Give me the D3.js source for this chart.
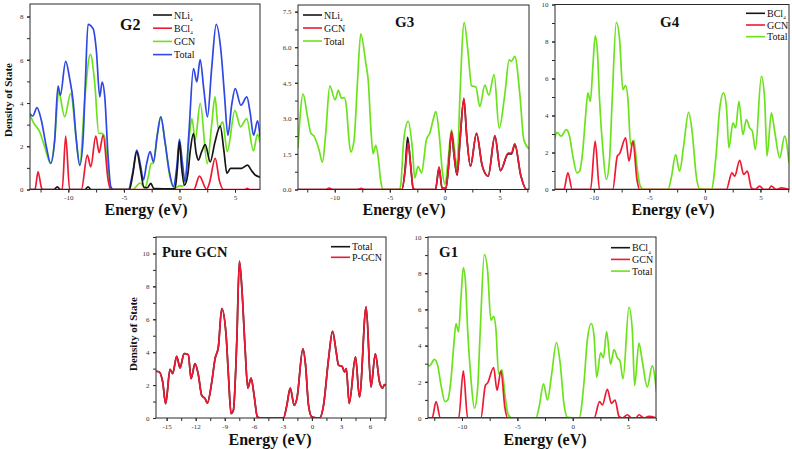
<!DOCTYPE html>
<html>
<head>
<meta charset="utf-8">
<script src="https://cdn.jsdelivr.net/npm/d3@7"></script>
<style>
  body { margin: 0; background: #fff; }
  svg { display: block; }
</style>
</head>
<body>
<div id="chart"></div>
<script>
// ---- data: [energy (eV), DOS] ----
const g2Total = [[-13.45,3.5],[-13.2,3.4],[-12.82,3.79],[-12.43,3.2],[-11.98,1.98],[-11.59,1.21],[-11.23,2.28],[-10.93,4.78],[-10.72,4.36],[-10.24,5.93],[-9.88,5.13],[-9.58,4.13],[-9.28,2.28],[-8.97,1.13],[-8.68,2.28],[-8.47,4.9],[-8.23,7.64],[-7.77,7.44],[-7.48,6.44],[-7.17,4.28],[-6.96,4.97],[-6.72,4.28],[-6.42,1.51],[-6.18,0.13],[-5.97,0],[-4.6,0],[-4.2,0.8],[-3.84,1.82],[-3.5,1.1],[-3.24,0.44],[-2.95,1.2],[-2.64,1.75],[-2.34,1.28],[-2.0,2.5],[-1.68,3.36],[-1.3,2.2],[-0.9,0.8],[-0.54,0.13],[-0.25,1.0],[0,2.32],[0.25,1.3],[0.51,0.36],[0.85,2.6],[1.26,5.59],[1.57,4.98],[1.86,6.01],[2.2,4.6],[2.52,3.36],[2.9,5.6],[3.31,7.64],[3.73,6.44],[4.05,4.4],[4.36,2.51],[4.7,3.9],[5.02,4.67],[5.53,3.9],[6.07,4.28],[6.35,3.6],[6.67,2.51],[7.03,3.17],[7.25,2.44]]
const g2Gcn = [[-13.45,3.44],[-13.1,3.06],[-12.58,2.67],[-12.13,1.98],[-11.59,1.21],[-11.23,2.28],[-10.87,4.51],[-10.33,3.36],[-9.79,4.44],[-9.28,2.28],[-8.97,1.1],[-8.53,4.13],[-8.02,6.25],[-7.62,4.9],[-7.26,2.59],[-7.0,2.6],[-6.75,2.45],[-6.33,0.44],[-6.1,0],[-4.2,0],[-3.54,0.3],[-3.1,0.08],[-2.8,0.6],[-2.55,1.2],[-2.34,1.22],[-2.0,2.5],[-1.68,3.36],[-1.3,2.2],[-0.9,0.7],[-0.54,0.12],[-0.2,0.1],[0,0.18],[0.3,0.15],[0.6,0.8],[0.9,2.5],[1.12,3.28],[1.42,2.3],[1.87,3.98],[2.5,1.2],[2.9,3.0],[3.2,4.28],[3.5,2.8],[3.9,3.13],[4.3,1.75],[4.99,3.65],[5.5,2.9],[6.05,3.28],[6.66,1.79],[7.02,2.55],[7.25,2.17]]
const g2Bcl = [[-13.45,0],[-13.0,0],[-12.73,0.82],[-12.4,0.05],[-12.28,0],[-10.55,0],[-10.24,2.47],[-9.88,0],[-8.83,0],[-8.29,1.59],[-7.98,1.05],[-7.53,2.47],[-7.23,1.7],[-6.87,2.51],[-6.42,0.44],[-6.2,0],[1.3,0],[1.8,0.62],[2.45,0],[2.7,0.3],[3.22,1.44],[3.6,0.4],[3.97,0],[5.9,0],[6.1,0.05],[6.3,0],[7.25,0]]
const g2Nli = [[-13.45,0],[-11.3,0],[-11.0,0.12],[-10.7,0],[-8.5,0],[-8.23,0.12],[-7.95,0],[-4.5,0],[-4.2,0.7],[-3.84,1.75],[-3.5,0.9],[-3.2,0.1],[-2.9,0.08],[-2.58,0.28],[-2.3,0.04],[-0.4,0.03],[-0.2,0.9],[0,2.2],[0.2,1.0],[0.45,0.2],[0.75,0.7],[1.0,1.9],[1.26,2.59],[1.5,1.7],[1.71,1.36],[2.0,1.75],[2.32,2.08],[2.77,1.28],[3.2,2.2],[3.67,2.93],[4.0,1.8],[4.27,0.75],[4.6,0.98],[5.6,0.98],[6.13,1.13],[6.45,0.9],[6.82,0.67],[7.25,0.57]]

const g3Total = [[-13.34,1.75],[-12.88,4.02],[-12.48,3.08],[-12.18,2.38],[-11.88,2.25],[-11.43,1.68],[-11.12,1.15],[-10.82,2.38],[-10.45,4.37],[-9.97,3.78],[-9.67,4.18],[-9.39,3.85],[-9.15,3.88],[-8.94,3.5],[-8.76,2.38],[-8.55,1.57],[-8.24,2.1],[-7.94,4.49],[-7.64,6.56],[-7.18,5.33],[-6.94,4.49],[-6.73,2.66],[-6.52,1.51],[-6.27,1.86],[-6.03,1.26],[-5.82,0.35],[-5.6,0],[-4.1,0],[-4.0,0.2],[-3.73,2.1],[-3.33,2.87],[-2.94,1.68],[-2.73,0.49],[-2.43,0.98],[-2.12,0.7],[-1.67,2.1],[-1.36,2.38],[-1.06,2.94],[-0.82,3.29],[-0.52,2.38],[-0.21,0.7],[0.03,0.21],[0.3,1.26],[0.61,2.52],[0.85,1.82],[1.12,0.91],[1.36,3.78],[1.76,7.04],[2.12,5.75],[2.43,4.37],[2.82,4.32],[3.18,3.5],[3.64,4.4],[4.0,3.98],[4.48,4.84],[4.94,2.59],[5.45,4.0],[5.85,5.47],[6.05,5.4],[6.36,5.61],[6.82,4.0],[7.18,2.1],[7.65,1.71]]
const g3Gcn = [[-13.34,0],[-10.8,0],[-10.5,0.06],[-10.2,0],[-7.9,0],[-7.6,0.05],[-7.3,0],[-3.9,0],[-3.6,0.8],[-3.33,1.96],[-3.1,1.0],[-2.88,0.07],[-2.7,0],[-0.85,0],[-0.52,0.95],[-0.25,0.05],[0.1,0.05],[0.35,1.0],[0.61,2.45],[0.85,1.4],[1.12,0.63],[1.4,2.2],[1.73,3.85],[2.0,2.2],[2.33,0.98],[2.88,2.38],[3.4,1.0],[3.94,0.56],[4.55,2.27],[5.06,0.8],[5.76,1.54],[6.06,1.54],[6.36,1.93],[6.9,0.6],[7.42,0],[7.65,0]]
const g3Nli = [[-13.34,0],[-3.9,0],[-3.6,0.9],[-3.38,2.2],[-3.1,1.0],[-2.88,0.05],[-2.7,0],[-0.85,0],[-0.52,0.9],[-0.25,0.05],[0.1,0.05],[0.35,1.0],[0.61,2.4],[0.85,1.4],[1.12,0.6],[1.4,2.2],[1.73,3.8],[2.0,2.2],[2.33,0.98],[2.88,2.35],[3.4,1.0],[3.94,0.56],[4.55,2.25],[5.06,0.8],[5.76,1.5],[6.06,1.5],[6.36,1.9],[6.9,0.6],[7.42,0],[7.65,0]]

// G4 and G1 show the same curves
const g4Total = [[-13.53,2.73],[-13.33,3.09],[-12.94,2.88],[-12.49,3.24],[-12.19,2.88],[-11.89,1.8],[-11.53,0.9],[-11.29,0.99],[-10.99,2.16],[-10.75,3.96],[-10.54,5.22],[-10.32,4.77],[-10.09,6.65],[-9.88,8.31],[-9.69,7.55],[-9.49,4.86],[-9.19,2.16],[-8.88,0.54],[-8.59,1.62],[-8.35,4.86],[-7.98,9.03],[-7.68,8.09],[-7.39,5.4],[-7.14,5.61],[-6.93,4.86],[-6.69,2.43],[-6.39,2.66],[-6.12,1.26],[-5.82,0.18],[-5.5,0],[-3.33,0],[-3.03,0.63],[-2.64,1.89],[-2.28,0.99],[-1.92,2.34],[-1.47,4.17],[-1.14,3.06],[-0.78,0.72],[-0.48,0.04],[0.57,0],[1.02,1.98],[1.32,4.32],[1.68,5.22],[1.93,4.5],[2.16,2.25],[2.52,3.6],[2.77,3.33],[3.06,4.77],[3.42,2.97],[3.73,3.78],[4.03,3.33],[4.27,3.15],[4.54,2.16],[5.08,6.12],[5.38,4.86],[5.59,1.8],[5.98,4.14],[6.28,3.15],[6.73,1.71],[7.18,2.88],[7.57,1.44]]
const g4Gcn = [[-13.53,0],[-12.7,0],[-12.34,0.9],[-11.95,0],[-10.3,0],[-9.88,2.61],[-9.49,0],[-8.3,0],[-7.89,1.8],[-7.68,1.94],[-7.14,2.79],[-6.84,1.53],[-6.48,2.61],[-6.12,0.54],[-5.88,0],[1.93,0],[2.43,0.9],[2.68,0.72],[3.13,1.58],[3.49,0.81],[3.82,0.99],[4.18,0.09],[4.5,0],[4.93,0.18],[5.3,0],[5.7,0],[5.98,0.18],[6.43,0],[6.88,0.09],[7.57,0]]
const g4Bcl = [[-13.53,0],[7.57,0]]

const pureGcn = [[-16.1,2.84],[-15.76,2.8],[-15.41,2.19],[-15.1,0.87],[-14.65,2.96],[-14.38,2.7],[-13.96,3.75],[-13.62,3.04],[-13.2,3.92],[-12.76,3.85],[-12.48,2.39],[-12.07,3.3],[-11.72,2.6],[-11.38,1.38],[-11.03,1.18],[-10.8,0.91],[-10.34,2.19],[-10.0,3.61],[-9.66,4.32],[-9.31,6.65],[-8.86,5.03],[-8.62,2.6],[-8.35,0.27],[-8.11,0.47],[-7.76,4.62],[-7.49,9.53],[-7.21,7.66],[-6.9,4.22],[-6.62,1.82],[-6.28,2.43],[-5.97,1.38],[-5.63,0.06],[-5.35,0],[-2.94,0],[-2.59,0.77],[-2.24,1.82],[-1.83,0.77],[-1.55,1.18],[-0.93,4.2],[-0.66,3.24],[-0.35,0.77],[0,0.06],[0.79,0],[1.2,0.77],[1.72,3.61],[2.13,5.27],[2.51,4.01],[2.75,3.2],[3.1,3.14],[3.38,2.8],[3.55,3.0],[3.85,0.88],[4.5,3.71],[4.91,1.28],[5.6,6.75],[6.1,1.89],[6.55,3.9],[6.98,2.19],[7.3,1.82],[7.5,2.03],[7.65,2.0]]
const pureTotal = pureGcn

// ---- tick labels ----
const energyTicks = [-10, -5, 0, 5]
const pureEnergyTicks = [-15, -12, -9, -6, -3, 0, 3, 6]
const dosTicks = [0, 2, 4, 6, 8]
const dosTicks10 = [0, 2, 4, 6, 8, 10]
const g3DosTicks = [0, 1.5, 3, 4.5, 6, 7.5]

const width = 792
const height = 449
const theme = {
  black: '#161616',
  red: '#ee1a33',
  green: '#6ce21c',
  blue: '#2f47e4',
  frame: '#2a2a2a',
  serif: '"Liberation Serif", "DejaVu Serif", serif'
}

const svg = d3.select('#chart')
  .append('svg')
  .attr('width', width)
  .attr('height', height)

const panels = [
  {
    id: 'g2', box: [30, 260, 4, 189.5], xDomain: [-13.45, 7.25], yDomain: [0, 8.58],
    xTicks: energyTicks, xMinor: 2.5, yTicks: dosTicks, yMinor: 1, yFmt: d => d,
    series: [[g2Gcn, theme.green], [g2Total, theme.blue], [g2Bcl, theme.red], [g2Nli, theme.black]],
    legend: { x: 153, y: 15, dy: 13.2, items: [['NLi', '4', theme.black], ['BCl', '4', theme.red], ['GCN', '', theme.green], ['Total', '', theme.blue]] },
    title: { text: 'G2', x: 120, y: 30, size: 16 },
    xLabel: { x: 146, y: 215 }, yLabel: { x: 12, y: 100 }
  },
  {
    id: 'g3', box: [298, 529, 5, 189.5], xDomain: [-13.34, 7.65], yDomain: [0, 7.78],
    xTicks: energyTicks, xMinor: 2.5, yTicks: g3DosTicks, yMinor: 0.75, yFmt: d3.format('.1f'),
    series: [[g3Total, theme.green], [g3Nli, theme.black], [g3Gcn, theme.red]],
    legend: { x: 303, y: 15, dy: 13, items: [['NLi', '4', theme.black], ['GCN', '', theme.red], ['Total', '', theme.green]] },
    title: { text: 'G3', x: 395, y: 27, size: 15 },
    xLabel: { x: 404, y: 215 }
  },
  {
    id: 'g4', box: [555, 789, 4.5, 189.5], xDomain: [-13.5, 7.57], yDomain: [0, 10],
    xTicks: energyTicks, xMinor: 2.5, yTicks: dosTicks10, yMinor: 1, yFmt: d => d,
    series: [[g4Bcl, theme.black], [g4Total, theme.green], [g4Gcn, theme.red]],
    legend: { x: 746, y: 13.3, dy: 11.7, items: [['BCl', '4', theme.black], ['GCN', '', theme.red], ['Total', '', theme.green]] },
    title: { text: 'G4', x: 660, y: 27, size: 15 },
    xLabel: { x: 673, y: 215 }
  },
  {
    id: 'pure', box: [156, 386, 237, 418], xDomain: [-16.1, 7.65], yDomain: [0, 11],
    xTicks: pureEnergyTicks, xMinor: 1.5, yTicks: dosTicks10, yMinor: 1, yFmt: d => d,
    series: [[pureTotal, theme.black], [pureGcn, theme.red]],
    legend: { x: 331, y: 246.7, dy: 10.6, items: [['Total', '', theme.black], ['P-GCN', '', theme.red]] },
    title: { text: 'Pure GCN', x: 162, y: 257, size: 14.5 },
    xLabel: { x: 270, y: 445 }, yLabel: { x: 137, y: 334 }
  },
  {
    id: 'g1', box: [428, 656, 237, 418], xDomain: [-13.07, 7.52], yDomain: [0, 10],
    xTicks: energyTicks, xMinor: 2.5, yTicks: dosTicks10, yMinor: 1, yFmt: d => d,
    series: [[g4Bcl, theme.black], [g4Total, theme.green], [g4Gcn, theme.red]],
    legend: { x: 611, y: 247.7, dy: 11.7, items: [['BCl', '4', theme.black], ['GCN', '', theme.red], ['Total', '', theme.green]] },
    title: { text: 'G1', x: 439, y: 257, size: 15 },
    xLabel: { x: 545, y: 445 }
  }
]

function minorValues(domain, step) {
  const start = Math.ceil(domain[0] / step) * step
  return d3.range(start, domain[1] + 1e-9, step)
}

function drawPanel(p) {
  const [x0, x1, y0, y1] = p.box
  const x = d3.scaleLinear().domain(p.xDomain).range([x0, x1])
  const y = d3.scaleLinear().domain(p.yDomain).range([y1, y0])
  const g = svg.append('g').attr('class', 'panel-' + p.id)

  g.append('clipPath')
    .attr('id', 'clip-' + p.id)
    .append('rect')
    .attr('x', x0).attr('y', y0)
    .attr('width', x1 - x0).attr('height', y1 - y0)

  // minor ticks
  g.append('g')
    .attr('transform', `translate(0,${y1})`)
    .call(d3.axisBottom(x).tickValues(minorValues(p.xDomain, p.xMinor)).tickSize(3).tickFormat(''))
  g.append('g')
    .attr('transform', `translate(${x0},0)`)
    .call(d3.axisLeft(y).tickValues(minorValues(p.yDomain, p.yMinor)).tickSize(3).tickFormat(''))

  // major ticks with labels
  g.append('g')
    .attr('class', 'x-axis')
    .attr('transform', `translate(0,${y1})`)
    .call(d3.axisBottom(x).tickValues(p.xTicks).tickSize(3).tickPadding(3).tickFormat(d => d))
  g.append('g')
    .attr('class', 'y-axis')
    .attr('transform', `translate(${x0},0)`)
    .call(d3.axisLeft(y).tickValues(p.yTicks).tickSize(3).tickPadding(3.5).tickFormat(p.yFmt))

  g.selectAll('.domain').remove()
  g.selectAll('.tick line').attr('stroke', theme.frame)
  g.selectAll('.tick text')
    .attr('fill', '#333')
    .style('font-family', theme.serif)
    .style('font-size', '7px')

  const line = d3.line()
    .x(d => x(d[0]))
    .y(d => y(d[1]))
    .curve(d3.curveMonotoneX)

  g.append('g')
    .attr('clip-path', `url(#clip-${p.id})`)
    .selectAll('path')
    .data(p.series)
    .join('path')
    .attr('d', d => line(d[0]))
    .attr('fill', 'none')
    .attr('stroke', d => d[1])
    .attr('stroke-width', 1.7)
    .attr('stroke-linejoin', 'round')

  g.append('rect')
    .attr('x', x0).attr('y', y0)
    .attr('width', x1 - x0).attr('height', y1 - y0)
    .attr('fill', 'none')
    .attr('stroke', theme.frame)
    .attr('stroke-width', 1)

  // legend
  const lg = g.append('g').attr('class', 'legend')
  p.legend.items.forEach((item, i) => {
    const ly = p.legend.y + i * p.legend.dy
    lg.append('line')
      .attr('x1', p.legend.x).attr('x2', p.legend.x + 19)
      .attr('y1', ly).attr('y2', ly)
      .attr('stroke', item[2]).attr('stroke-width', 1.6)
    const t = lg.append('text')
      .attr('x', p.legend.x + 21)
      .attr('y', ly + 3.5)
      .style('font-family', theme.serif)
      .style('font-size', '10px')
      .attr('fill', '#111')
      .text(item[0])
    if (item[1]) {
      t.append('tspan')
        .attr('dy', 2.5)
        .style('font-size', '5px')
        .text(item[1])
    }
  })

  g.append('text')
    .attr('x', p.title.x)
    .attr('y', p.title.y)
    .style('font-family', theme.serif)
    .style('font-weight', 'bold')
    .style('font-size', p.title.size + 'px')
    .attr('fill', '#111')
    .text(p.title.text)

  g.append('text')
    .attr('x', p.xLabel.x)
    .attr('y', p.xLabel.y)
    .attr('text-anchor', 'middle')
    .style('font-family', theme.serif)
    .style('font-weight', 'bold')
    .style('font-size', '16px')
    .attr('fill', '#111')
    .text('Energy (eV)')

  if (p.yLabel) {
    g.append('text')
      .attr('transform', `translate(${p.yLabel.x},${p.yLabel.y}) rotate(-90)`)
      .attr('text-anchor', 'middle')
      .style('font-family', theme.serif)
      .style('font-weight', 'bold')
      .style('font-size', '11px')
      .attr('fill', '#111')
      .text('Density of State')
  }
}

panels.forEach(drawPanel)
</script>
</body>
</html>
